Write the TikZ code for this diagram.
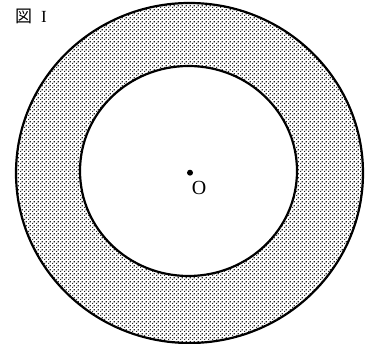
\documentclass[tikz,border=0pt]{standalone}
\usepackage{fontspec}
\setmainfont{Liberation Serif}
\newfontfamily\cjk{Noto Sans CJK JP}
\usetikzlibrary{patterns}
\pgfdeclarepatternformonly{screendots}{\pgfpointorigin}{\pgfqpoint{4pt}{4pt}}{\pgfqpoint{4pt}{4pt}}{%
  \pgfpathrectangle{\pgfqpoint{0pt}{0pt}}{\pgfqpoint{1.5pt}{1.5pt}}%
  \pgfpathrectangle{\pgfqpoint{2pt}{2pt}}{\pgfqpoint{1.5pt}{1.5pt}}%
  \pgfusepath{fill}}
\begin{document}
\begin{tikzpicture}[x=1pt,y=-1pt,
  rim/.style={draw=black,line width=2.2pt},
  centerdot/.style={circle,fill=black,inner sep=0pt,minimum size=6pt},
  lbl/.style={inner sep=0pt,font=\fontsize{20}{20}\selectfont}]
\useasboundingbox (0,0) rectangle (371,344);
\fill[pattern=screendots,pattern color=black!85,even odd rule]
  (189.5,173) ellipse [x radius=173.5,y radius=170]
  (188.5,171) ellipse [x radius=108.5,y radius=105];
\draw[rim] (189.5,173) ellipse [x radius=173.5,y radius=170];
\draw[rim] (188.5,171) ellipse [x radius=108.5,y radius=105];
\node[centerdot] (c) at (190,172.7) {};
\node[lbl] (o) at (199,188) {O};
\node[inner sep=0pt,anchor=west,font=\fontsize{17}{17}\selectfont] (title) at (15,16) {{\cjk 図}\hspace{9pt}I};
\end{tikzpicture}
\end{document}
